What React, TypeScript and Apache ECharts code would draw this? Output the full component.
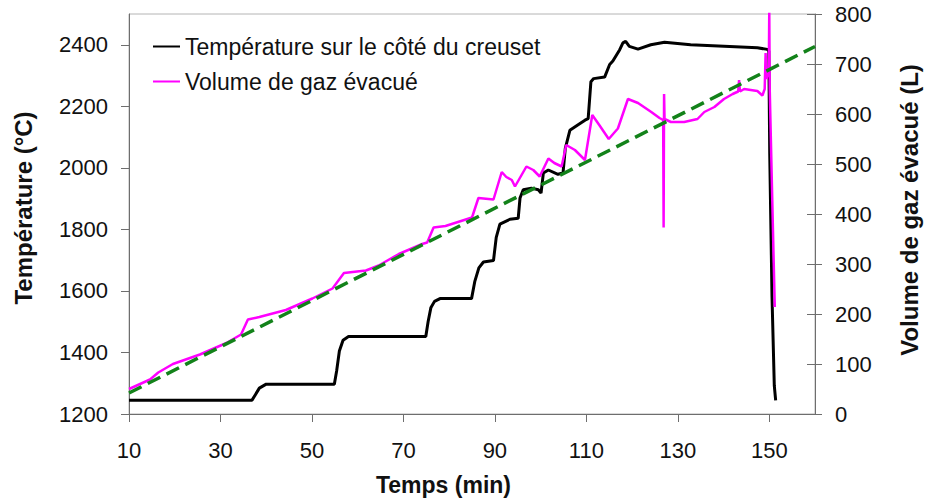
import React, { useEffect, useRef } from "react";
import * as echarts from "echarts";

// Temps (min) / Température (°C)
const temperature: [number, number][] = [
  [10, 1245], [36.9, 1245], [37.6, 1262], [38.5, 1284], [40, 1297], [54.9, 1297], [55.4, 1340], [56.0, 1405],
  [56.8, 1440], [58, 1452], [74.9, 1452], [75.4, 1500], [76.0, 1545], [76.8, 1566], [78, 1575], [84.9, 1575],
  [85.6, 1630], [86.5, 1675], [87.5, 1694], [89.7, 1699], [90.3, 1774], [91.1, 1817], [93.3, 1833], [95.1, 1836],
  [95.5, 1902], [96.2, 1929], [98, 1934], [99.5, 1929], [100.1, 1918], [100.6, 1983], [101.7, 1993],
  [103.8, 1979], [104.9, 1983], [105.4, 2063], [106.4, 2122], [108.2, 2140], [109.7, 2155], [110.4, 2160],
  [111.0, 2280], [111.6, 2290], [114.0, 2295], [115.1, 2336], [115.8, 2347], [117.3, 2384], [118.0, 2406],
  [118.6, 2411], [119.4, 2395], [121.3, 2386], [124.1, 2400], [127.1, 2408], [132.8, 2400], [140.1, 2395],
  [147.4, 2390], [149.6, 2385], [149.9, 2380], [150.1, 2046], [150.6, 1581], [151.1, 1292], [151.4, 1244],
];

// Temps (min) / Volume de gaz évacué (L)
const gasVolume: [number, number][] = [
  [10, 50], [14.6, 69], [16.4, 83], [19.6, 100], [25.5, 119], [31.3, 142], [34.5, 159], [36.0, 189],
  [38.5, 194], [44.3, 208], [50.1, 231], [54.5, 251], [57.0, 282], [61.8, 287], [64.6, 297], [69.0, 320],
  [74.1, 340], [75.2, 343], [76.6, 373], [79.2, 376], [85.0, 393], [86.4, 432], [89.7, 429], [91.5, 484],
  [92.5, 474], [93.7, 468], [94.4, 455], [96.9, 495], [98.4, 488], [99.8, 475], [101.7, 511], [103.0, 502],
  [104.6, 495], [105.6, 538], [107.5, 528], [109.7, 508], [111.3, 598], [112.9, 577], [114.9, 550],
  [116.9, 571], [119.1, 630], [121.3, 622], [124.2, 604], [126.0, 592], [126.8, 588], [126.9, 373],
  [127.0, 640], [127.1, 590], [128.5, 584], [131.4, 584], [134.3, 590], [135.8, 604], [138.0, 614],
  [140.1, 630], [142.0, 640], [143.2, 645], [143.4, 668], [143.6, 645], [144.5, 650], [147.4, 646],
  [148.5, 637], [149.0, 650], [149.2, 722], [149.4, 670], [149.9, 689], [150.0, 808], [150.1, 650],
  [150.6, 450], [151.2, 214],
];

// Tendance linéaire (pointillés verts)
const trendLine: [number, number][] = [[10, 42], [160, 735]];

const xTicks = [10, 30, 50, 70, 90, 110, 130, 150];
const leftTicks = [1200, 1400, 1600, 1800, 2000, 2200, 2400];

const seriesNames = ["Température sur le côté du creuset", "Volume de gaz évacué", "Tendance"];

const FONT = "'Liberation Sans', Arial, sans-serif";
const AXIS_COLOR = "#6e6e6e";

export default function App() {
  const ref = useRef<HTMLDivElement>(null);

  useEffect(() => {
    if (!ref.current) return;
    const chart = echarts.init(ref.current, null, { renderer: "svg" });
    chart.setOption({
      animation: false,
      backgroundColor: "#ffffff",
      textStyle: { fontFamily: FONT },
      grid: {
        left: 129,
        right: 111,
        top: 14,
        bottom: 82,
        show: true,
        borderColor: "#b4b4b4",
        borderWidth: 1,
        backgroundColor: "transparent",
      },
      legend: {
        data: [seriesNames[0], seriesNames[1]],
        orient: "vertical",
        left: 147,
        top: 30,
        itemWidth: 27,
        itemHeight: 14,
        itemGap: 12,
        itemStyle: { opacity: 0 },
        textStyle: { fontFamily: FONT, fontSize: 23, color: "#111" },
      },
      xAxis: {
        type: "value",
        min: 10,
        max: 160,
        name: "Temps (min)",
        nameLocation: "middle",
        nameGap: 59,
        nameTextStyle: { fontFamily: FONT, fontSize: 23, fontWeight: "bold", color: "#111", padding: [0, 57, 0, 0] },
        axisLine: { show: true, lineStyle: { color: AXIS_COLOR, width: 1 } },
        axisTick: { show: true, inside: false, length: 8, lineStyle: { color: AXIS_COLOR }, customValues: xTicks },
        axisLabel: { fontSize: 22, color: "#111", margin: 25, fontFamily: FONT, customValues: xTicks },
        splitLine: { show: false },
      },
      yAxis: [
        {
          type: "value",
          position: "left",
          min: 1200,
          max: 2500,
          name: "Température (°C)",
          nameLocation: "middle",
          nameRotate: 90,
          nameGap: 94,
          nameTextStyle: { fontFamily: FONT, fontSize: 24, fontWeight: "bold", color: "#111", padding: [0, 0, 0, 12] },
          axisLine: { show: true, lineStyle: { color: AXIS_COLOR, width: 1 } },
          axisTick: { show: true, inside: false, length: 8, lineStyle: { color: AXIS_COLOR }, customValues: leftTicks },
          axisLabel: {
            fontSize: 22,
            color: "#111",
            margin: 21,
            fontFamily: FONT,
            customValues: leftTicks,
            formatter: (v: number) => String(v),
          },
          splitLine: { show: false },
        },
        {
          type: "value",
          position: "right",
          min: 0,
          max: 800,
          interval: 100,
          name: "Volume de gaz évacué (L)",
          nameLocation: "middle",
          nameRotate: 90,
          nameGap: 82,
          nameTextStyle: { fontFamily: FONT, fontSize: 24, fontWeight: "bold", color: "#111", padding: [0, 0, 0, 8] },
          axisLine: { show: true, lineStyle: { color: AXIS_COLOR, width: 1 } },
          axisTick: { show: true, inside: false, length: 7, lineStyle: { color: AXIS_COLOR } },
          axisLabel: { fontSize: 22, color: "#111", margin: 20, fontFamily: FONT },
          splitLine: { show: false },
        },
        {
          type: "value",
          position: "right",
          min: 0,
          max: 800,
          interval: 100,
          axisLine: { show: false },
          axisTick: { show: true, inside: true, length: 8, lineStyle: { color: AXIS_COLOR } },
          axisLabel: { show: false },
          splitLine: { show: false },
        },
      ],
      series: [
        {
          name: seriesNames[0],
          type: "line",
          yAxisIndex: 0,
          data: temperature,
          showSymbol: false,
          symbol: "none",
          lineStyle: { color: "#000000", width: 3 },
          itemStyle: { color: "#000000" },
          clip: true,
        },
        {
          name: seriesNames[1],
          type: "line",
          yAxisIndex: 1,
          data: gasVolume,
          showSymbol: false,
          symbol: "none",
          lineStyle: { color: "#ff00ff", width: 2.5 },
          itemStyle: { color: "#ff00ff" },
          clip: true,
        },
        {
          name: seriesNames[2],
          type: "line",
          yAxisIndex: 1,
          data: trendLine,
          showSymbol: false,
          symbol: "none",
          lineStyle: { color: "#13821a", width: 3.5, type: [14, 7] },
          itemStyle: { color: "#13821a" },
          clip: true,
        },
      ],
    });
    return () => chart.dispose();
  }, []);

  return (
    <div
      ref={ref}
      style={{ position: "fixed", left: 0, top: 0, width: 929, height: 501, background: "#fff" }}
    />
  );
}
